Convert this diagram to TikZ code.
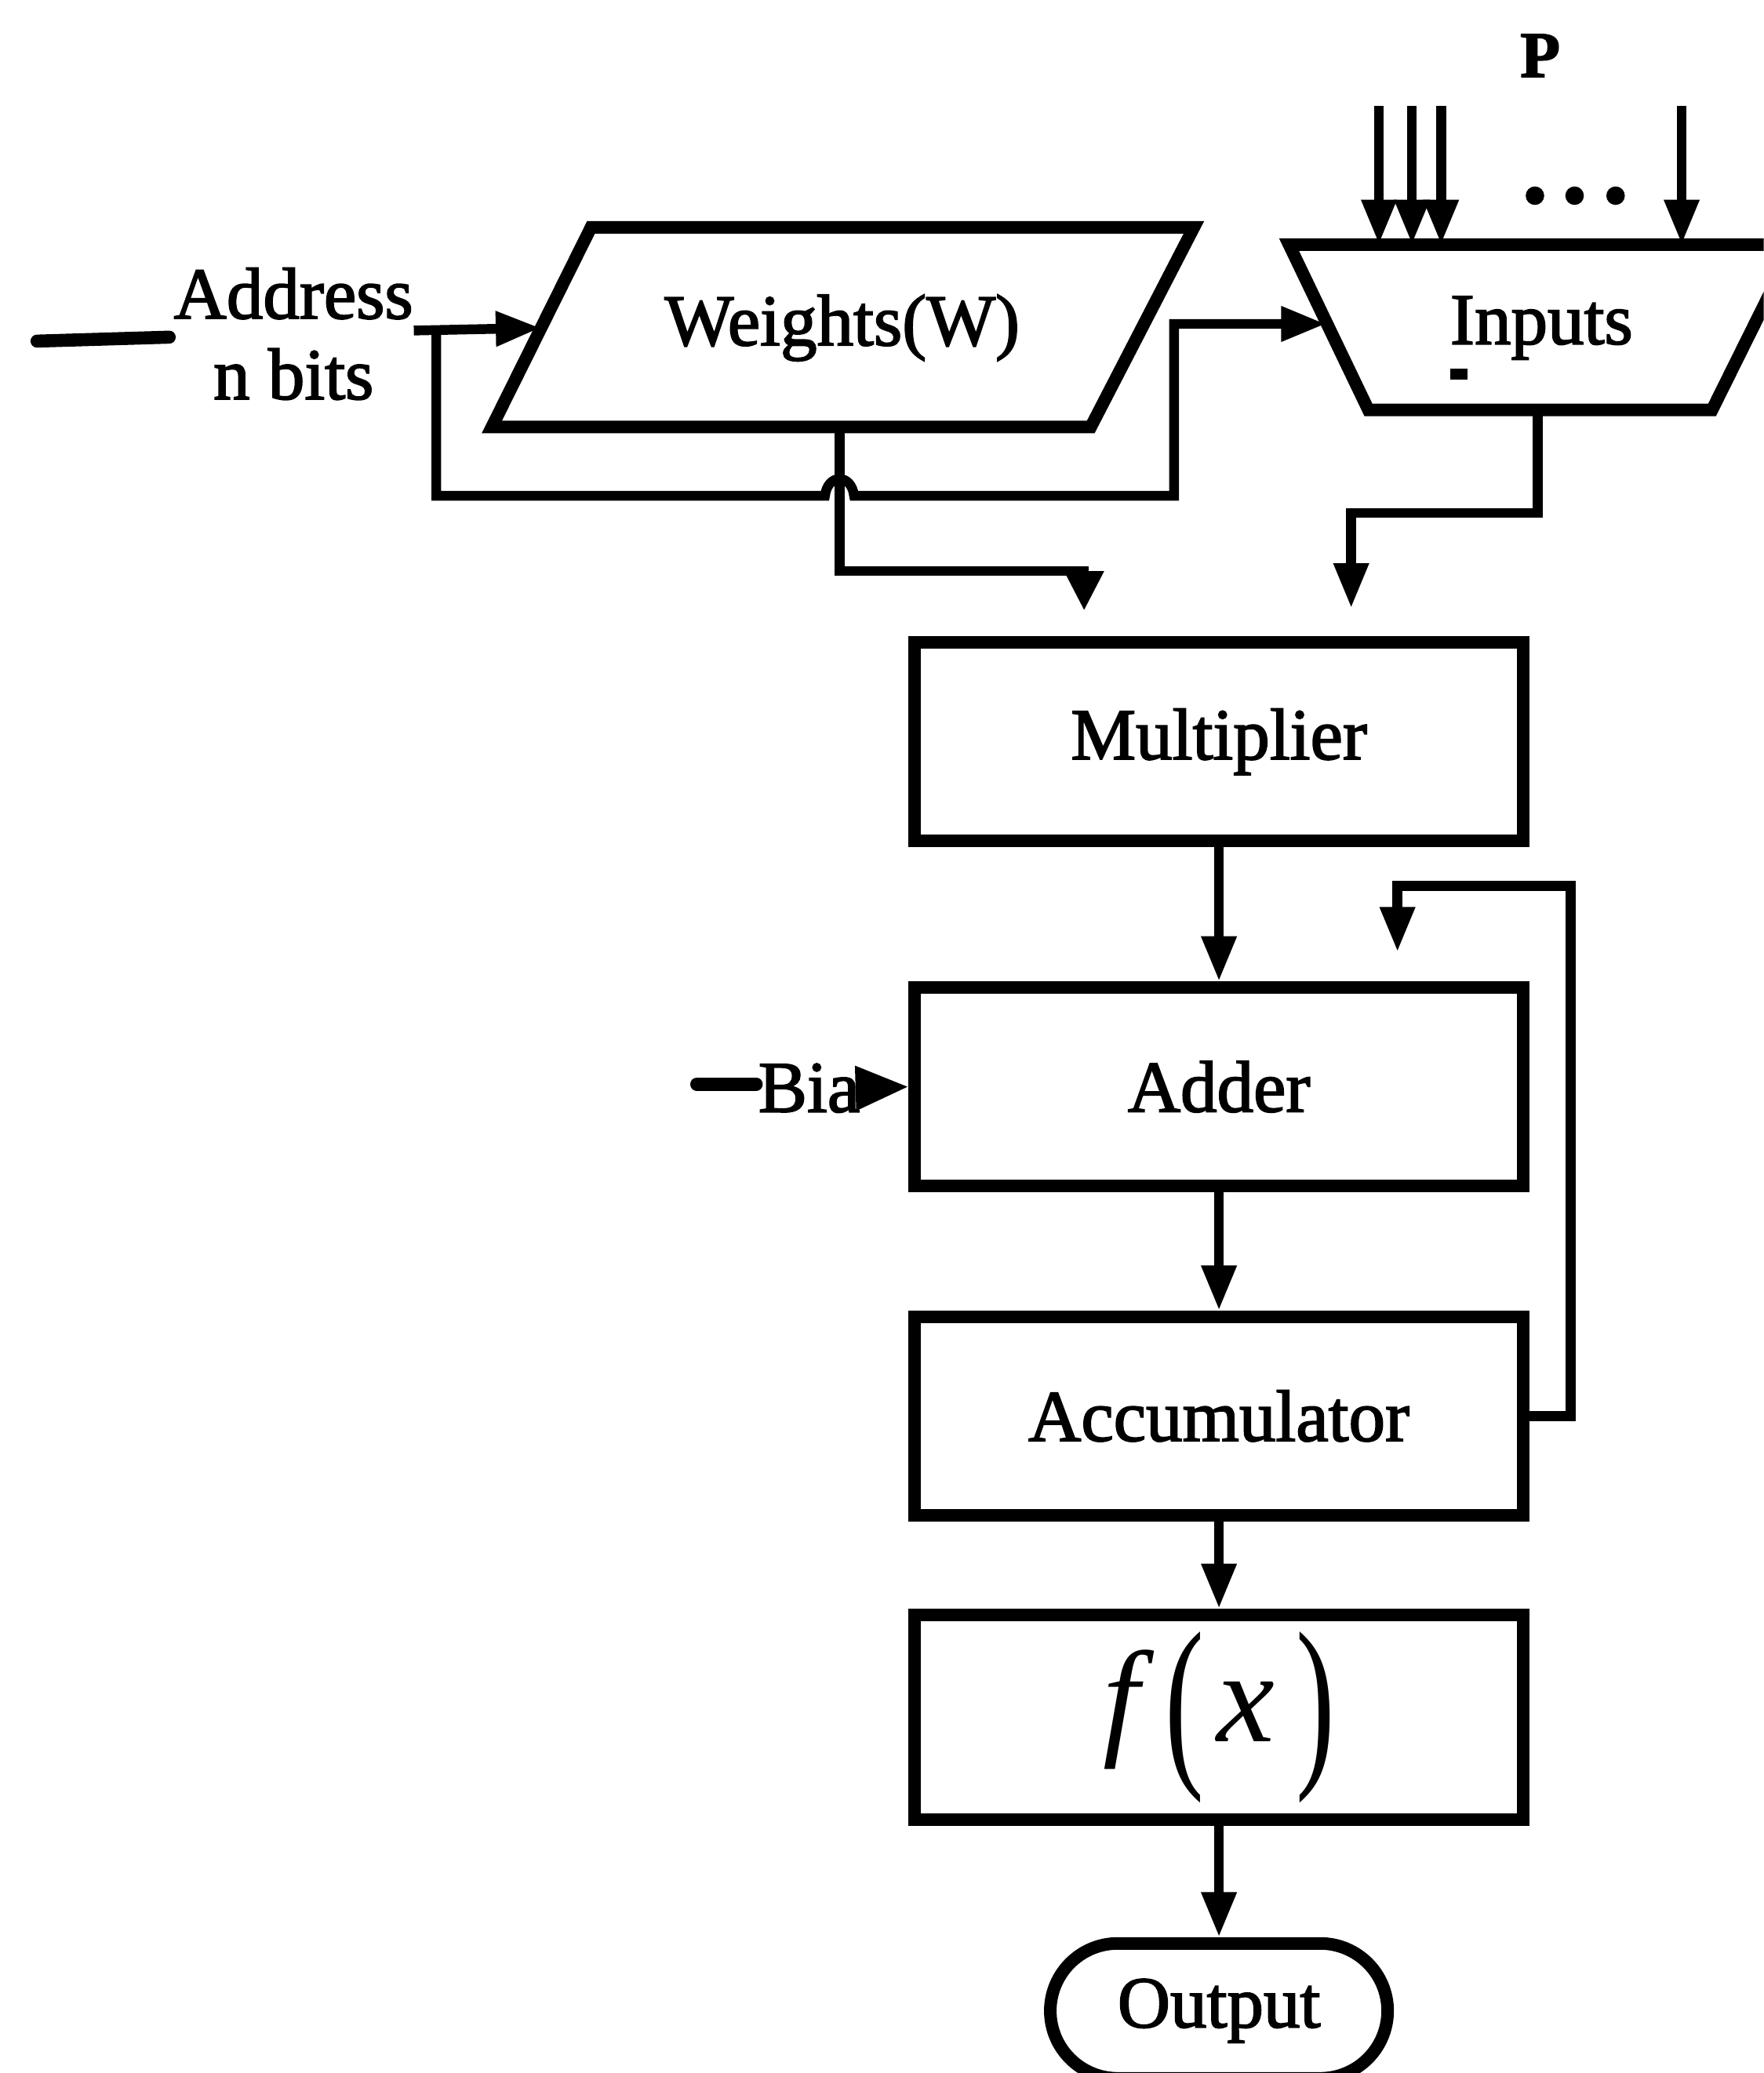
\documentclass[tikz,border=0pt]{standalone}
\usepackage{fontspec}
\usepackage{graphicx}
\usetikzlibrary{arrows.meta,shapes.misc}
\newfontfamily\lblfont{Liberation Serif}[FakeBold=2]
\newfontfamily\thinfont{Liberation Serif}

\tikzset{
  lab/.style={inner sep=0pt, font=\lblfont\fontsize{15.7}{18}\selectfont},
  blockbox/.style={draw, line width=2.7pt, minimum width=4.6cm, minimum height=1.5cm,
    inner sep=0pt, font=\lblfont\fontsize{15.7}{18}\selectfont},
  shapeline/.style={line width=2.7pt, line join=miter},
  conn/.style={line width=2.1pt},
  arr/.style={conn, -{Triangle[length=0.34cm,width=0.25cm]}},
  arrwide/.style={conn, -{Triangle[length=0.3cm,width=0.28cm]}},
  arrbig/.style={conn, -{Triangle[length=0.4cm,width=0.32cm]}},
}

\begin{document}
\begin{tikzpicture}[x=0.01cm,y=-0.01cm]
\useasboundingbox (0,0) rectangle (1334,1568);
\clip (0,0) rectangle (1334,1568);

% ---- Weights memory (parallelogram) ----
\coordinate (wTL) at (447,172);
\coordinate (wTR) at (903,172);
\coordinate (wBR) at (825,323);
\coordinate (wBL) at (372,323);
\draw[shapeline] (wTL) -- (wTR) -- (wBR) -- (wBL) -- cycle;
\node[lab] (weights) at (637,248) {Weights(W)};
\coordinate (wIn) at (409,248);
\coordinate (wOut) at (635,323);

% ---- Inputs selector (trapezoid) ----
\coordinate (iTL) at (975,185);
\coordinate (iTR) at (1357,185);
\coordinate (iBR) at (1295,310);
\coordinate (iBL) at (1035,310);
\draw[shapeline] (iTL) -- (iTR) -- (iBR) -- (iBL) -- cycle;
\node[lab] (inputs) at (1166,248) {Inputs};
\fill (1097,279) rectangle (1110,287);
\coordinate (iIn) at (1003,245);
\coordinate (iOut) at (1163,310);

% ---- P input lines ----
\node[inner sep=0pt, font=\lblfont\fontsize{14}{16}\selectfont\bfseries] (P) at (1165,42) {P};
\foreach \xx/\nm in {1043/pa,1068/pb,1090/pc,1272/pd}{
  \coordinate (\nm s) at (\xx,80);
  \coordinate (\nm e) at (\xx,185);
  \draw[arr] (\nm s) -- (\nm e);
}
\foreach \xx in {1161,1191,1222}{
  \fill (\xx,148) circle (7);
}

% ---- Address input ----
\node[lab] (addr) at (222,222) {Address};
\node[lab] (nbits) at (222,283) {n bits};
\coordinate (aL) at (28,258);
\coordinate (aR) at (128,255);
\draw[line width=2.8pt, line cap=round] (aL) -- (aR);
\coordinate (aStart) at (313,250);
\draw[arr] (aStart) -- (wIn);

% address loop towards the Inputs block, hopping over the weight line
\coordinate (lpA) at (330,250);
\coordinate (lpB) at (888,375);
\draw[arr] (lpA) -- (330,375) -- (624,375)
  .. controls (626,358) and (644,358) .. (646,375)
  -- (lpB) -- (888,245) -- (iIn);

% ---- Processing chain ----
\node[blockbox] (mult) at (922,561) {Multiplier};
\node[blockbox] (adder) at (922,822) {Adder};
\node[blockbox] (acc) at (922,1071) {Accumulator};
\node[blockbox, minimum height=1.55cm] (fx) at (922,1299)
  {\thinfont\fontsize{28}{32}\selectfont\itshape f\hspace{0.2em}\raisebox{-0.16em}{\upshape\scalebox{0.9}[1.45]{(}}\hspace{0.1em}x\hspace{0.16em}\raisebox{-0.16em}{\upshape\scalebox{0.9}[1.45]{)}}};
\node[draw, rounded rectangle, line width=2.7pt, minimum width=2.55cm, minimum height=1.02cm,
  inner sep=0pt, font=\lblfont\fontsize{15.7}{18}\selectfont] (out) at (922,1521) {Output};

% weights and inputs into the multiplier
\coordinate (mW) at (820,462);
\coordinate (mI) at (1022,460);
\draw[arrwide] (wOut) -- (635,432) -- (820,432) -- (mW);
\draw[arr] (iOut) -- (1163,388) -- (1022,388) -- (mI);

% vertical chain
\draw[arr] (mult.south) -- (adder.north);
\draw[arr] (adder.south) -- (acc.north);
\draw[arr] (acc.south) -- (fx.north);
\draw[arr] (fx.south) -- (out.north);

% accumulator feedback
\coordinate (fbEnd) at (1057,720);
\draw[arr] (acc.east) -- (1188,1071) -- (1188,670) -- (1057,670) -- (fbEnd);

% bias input
\node[lab] (bia) at (612,823) {Bia};
\coordinate (bL) at (527,820);
\coordinate (bR) at (572,820);
\draw[line width=2.8pt, line cap=round] (bL) -- (bR);
\draw[arrbig] (bia.east) -- (adder.west);

\end{tikzpicture}
\end{document}
